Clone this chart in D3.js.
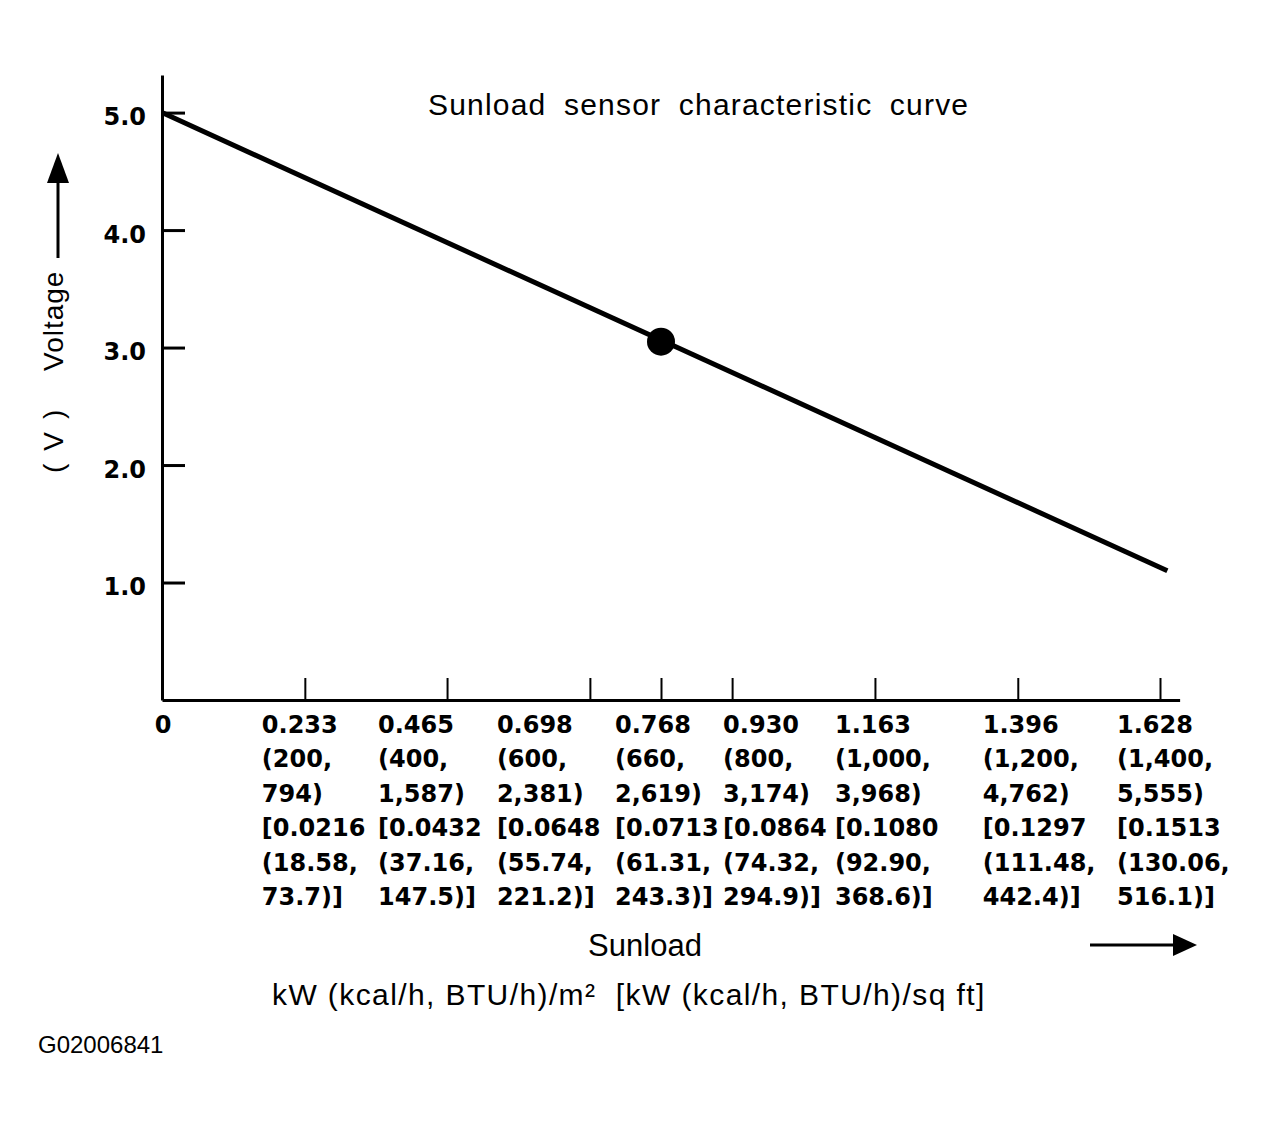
<!DOCTYPE html>
<html>
<head>
<meta charset="utf-8">
<script src="https://cdn.jsdelivr.net/npm/d3@7/dist/d3.min.js"></script>
<style>
  body { margin: 0; background: #fff; }
  svg text { font-family: "Liberation Sans", Arial, sans-serif; fill: #000; }
  svg text.num, svg .num text { font-family: "DejaVu Sans", sans-serif; font-weight: bold; font-size: 24px; }
</style>
</head>
<body>
<div id="chart"></div>
<script>
// sunload tick values, kW/m2, with the other units printed under each
var sunloadKw = [0.233, 0.465, 0.698, 0.768, 0.930, 1.163, 1.396, 1.628];
var kcalM2 = ['200', '400', '600', '660', '800', '1,000', '1,200', '1,400'];
var btuM2 = ['794', '1,587', '2,381', '2,619', '3,174', '3,968', '4,762', '5,555'];
var kwSqft = ['0.0216', '0.0432', '0.0648', '0.0713', '0.0864', '0.1080', '0.1297', '0.1513'];
var kcalSqft = ['18.58', '37.16', '55.74', '61.31', '74.32', '92.90', '111.48', '130.06'];
var btuSqft = ['73.7', '147.5', '221.2', '243.3', '294.9', '368.6', '442.4', '516.1'];

var voltageTicks = [1.0, 2.0, 3.0, 4.0, 5.0];

// characteristic line (kW/m2, V) and the marked point
var curveKw = [0, 1.64];
var curveVolt = [5.0, 1.1];
var markKw = [0.768];
var markVolt = [3.05];

(function(){
  var width = 1267;
  var height = 1129;
  var svg = d3.select('#chart').append('svg')
                .attr('width', width)
                .attr('height', height);

  // the drawing is not to scale around 0.768, so the x scale is piecewise:
  // 0.768 sits halfway between the 0.698 and 0.930 ticks
  var xLin = d3.scaleLinear().domain([0, 1.628]).range([162, 1160]);
  var xBreaks = [0, 0.698, 0.768, 0.930, 1.66];
  var x = d3.scaleLinear()
      .domain(xBreaks)
      .range(xBreaks.map(function(d){
        return d === 0.768 ? (xLin(0.698) + xLin(0.930)) / 2 : xLin(d);
      }));
  var y = d3.scaleLinear().domain([0, 5.32]).range([700, 75]);

  // y axis, ticks pointing into the plot
  var yAxis = svg.append('g')
      .attr('transform', 'translate(162,0)')
      .call(d3.axisLeft(y)
        .tickValues(voltageTicks)
        .tickSizeInner(-23)
        .tickSizeOuter(0)
        .tickPadding(16)
        .tickFormat(d3.format('.1f')));
  yAxis.select('.domain').attr('stroke-width', 3);
  yAxis.selectAll('.tick line').attr('stroke-width', 3);
  yAxis.selectAll('.tick text')
      .attr('class', 'num')
      .attr('dy', '0.5em');

  // x axis, ticks pointing up
  var xAxis = svg.append('g')
      .attr('transform', 'translate(0,700)')
      .call(d3.axisBottom(x)
        .tickValues(sunloadKw)
        .tickSizeInner(-22)
        .tickSizeOuter(0)
        .tickFormat(''));
  xAxis.select('.domain').attr('stroke-width', 3);
  xAxis.selectAll('.tick line').attr('stroke-width', 2);
  xAxis.selectAll('.tick text').remove();

  // multi-line tick labels, nudged left so the columns don't collide
  var labelShift = [-43, -69, -93, -46, -9, -40, -35, -43];
  var lineGap = 34.4;
  var labels = svg.append('g').attr('class', 'num');
  labels.append('text')
      .attr('x', x(0) + 1)
      .attr('y', 733)
      .attr('text-anchor', 'middle')
      .text('0');
  labels.selectAll('text.col')
      .data(sunloadKw)
      .enter()
      .append('text')
        .attr('class', 'col')
        .attr('y', 733)
        .each(function(d, i){
          var rows = [
            d.toFixed(3),
            '(' + kcalM2[i] + ',',
            btuM2[i] + ')',
            '[' + kwSqft[i],
            '(' + kcalSqft[i] + ',',
            btuSqft[i] + ')]'
          ];
          d3.select(this).selectAll('tspan')
              .data(rows)
              .enter()
              .append('tspan')
                .attr('x', x(d) + labelShift[i])
                .attr('dy', function(r, j){ return j === 0 ? 0 : lineGap; })
                .text(function(r){ return r; });
        });

  // the line
  var pts = curveKw.map(function(k, i){ return [k, curveVolt[i]]; });
  svg.append('path')
      .datum(pts)
      .attr('fill', 'none')
      .attr('stroke', '#000')
      .attr('stroke-width', 5)
      .attr('d', d3.line()
        .x(function(d){ return x(d[0]); })
        .y(function(d){ return y(d[1]); }));

  svg.selectAll('circle.mark')
      .data(markKw)
      .enter()
      .append('circle')
        .attr('class', 'mark')
        .attr('cx', function(d){ return x(d); })
        .attr('cy', function(d, i){ return y(markVolt[i]); })
        .attr('r', 14)
        .attr('fill', '#000');

  // title
  svg.append('text')
      .attr('x', 428)
      .attr('y', 115)
      .attr('font-size', 30)
      .attr('letter-spacing', 1.2)
      .attr('word-spacing', 8)
      .text('Sunload sensor characteristic curve');

  // y axis title with arrow
  var yTitle = svg.append('g').attr('transform', 'translate(63,0) rotate(-90)');
  yTitle.append('text')
      .attr('x', -473)
      .attr('y', 0)
      .attr('font-size', 28)
      .attr('letter-spacing', 13)
      .text('(V)');
  yTitle.append('text')
      .attr('x', -371)
      .attr('y', 0)
      .attr('font-size', 28)
      .attr('letter-spacing', 1)
      .text('Voltage');
  svg.append('line')
      .attr('x1', 58).attr('x2', 58)
      .attr('y1', 258).attr('y2', 178)
      .attr('stroke', '#000')
      .attr('stroke-width', 3);
  svg.append('path')
      .attr('d', 'M58,153 L69,183 L47,183 Z')
      .attr('fill', '#000');

  // x axis title with arrow
  svg.append('text')
      .attr('x', 645)
      .attr('y', 956)
      .attr('text-anchor', 'middle')
      .attr('font-size', 31)
      .text('Sunload');
  svg.append('line')
      .attr('x1', 1090).attr('x2', 1178)
      .attr('y1', 945).attr('y2', 945)
      .attr('stroke', '#000')
      .attr('stroke-width', 3);
  svg.append('path')
      .attr('d', 'M1197,945 L1173,934 L1173,956 Z')
      .attr('fill', '#000');

  svg.append('text')
      .attr('x', 272)
      .attr('y', 1005)
      .attr('font-size', 30)
      .attr('letter-spacing', 1.4)
      .style('white-space', 'pre')
      .text('kW (kcal/h, BTU/h)/m\u00b2  [kW (kcal/h, BTU/h)/sq ft]');

  svg.append('text')
      .attr('x', 38)
      .attr('y', 1053)
      .attr('font-size', 24)
      .text('G02006841');
})();
</script>
</body>
</html>
